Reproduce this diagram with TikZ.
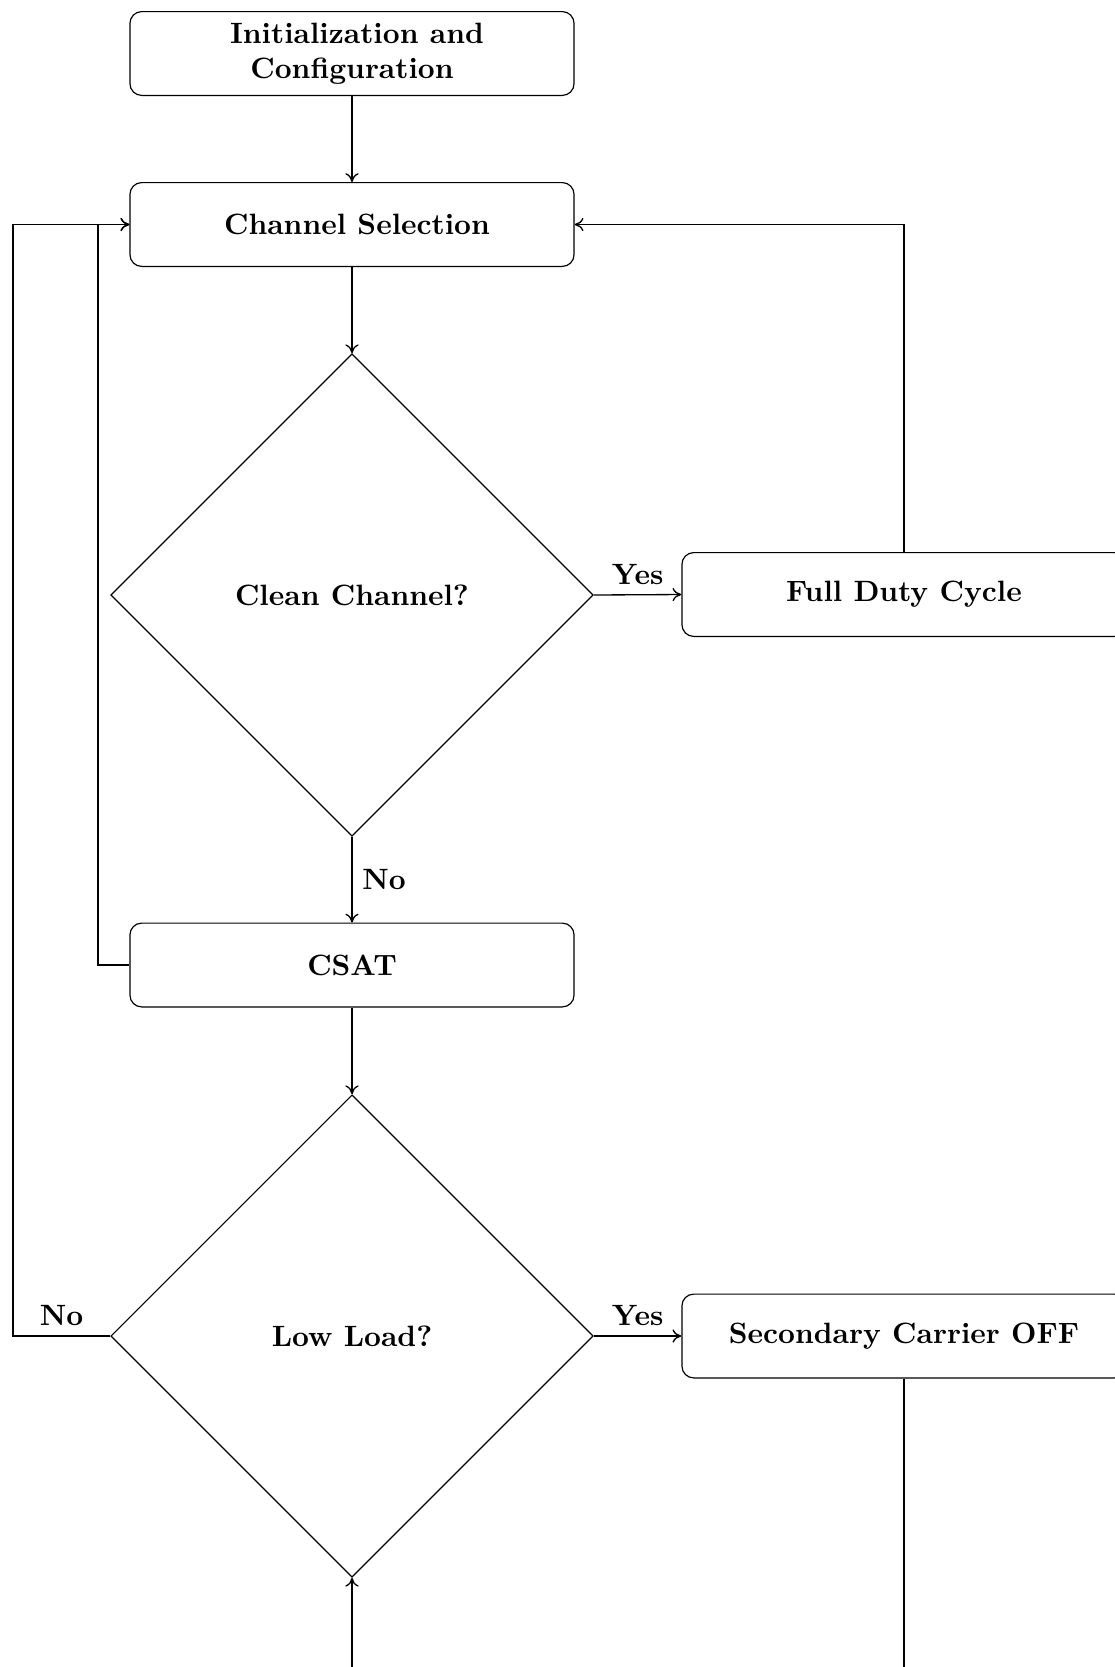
\documentclass[tikz,border=0pt]{standalone}
\usetikzlibrary{shapes.geometric,arrows.meta}
\begin{document}
\begin{tikzpicture}[x=0.34pt,y=-0.34pt,
  stepbox/.style={draw,rounded corners=4pt,minimum width=151pt,minimum height=28.5pt,align=center,font=\bfseries,inner sep=2pt},
  decision/.style={draw,diamond,minimum width=164pt,minimum height=164pt,inner sep=0pt,font=\bfseries,align=center},
  conn/.style={-{To[length=3pt,width=4.5pt]},line width=0.45pt},
  lbl/.style={font=\bfseries}]
\useasboundingbox (0,0) rectangle (1115,1667);
\clip (0,0) rectangle (1115,1667);
\node[stepbox] (init) at (352,53.5) {\hspace*{3.4pt}Initialization and\\Configuration};
\node[stepbox] (chsel) at (352,224.5) {\hspace*{3.4pt}Channel Selection};
\node[decision] (d1) at (352,595) {Clean Channel?};
\node[stepbox] (fdc) at (904,594.5) {Full Duty Cycle};
\node[stepbox] (csat) at (352,965) {CSAT};
\node[decision] (d2) at (352,1336) {Low Load?};
\node[stepbox] (sco) at (904,1336) {Secondary Carrier OFF};
\coordinate (lo) at (13,224.5);
\coordinate (li) at (98,224.5);
\coordinate (bot) at (904,1760);
\coordinate (botl) at (352,1760);
\draw[conn] (init) -- (chsel);
\draw[conn] (chsel) -- (d1);
\draw[conn] (d1.east) -- node[lbl,above] {Yes} (fdc.west);
\draw[conn] (d1.south) -- node[lbl,right] {No} (csat.north);
\draw[conn] (csat) -- (d2);
\draw[conn] (d2.east) -- node[lbl,above] {Yes} (sco.west);
\draw[conn] (fdc.north) |- (chsel.east);
\draw[conn] (csat.west) -| (li) -- (chsel.west);
\draw[conn] (d2.west) -- node[lbl,above] {No} (d2.west -| lo) -- (lo) -- (chsel.west);
\draw[conn] (sco.south) -- (bot) -- (botl) -- (d2.south);
\end{tikzpicture}
\end{document}
